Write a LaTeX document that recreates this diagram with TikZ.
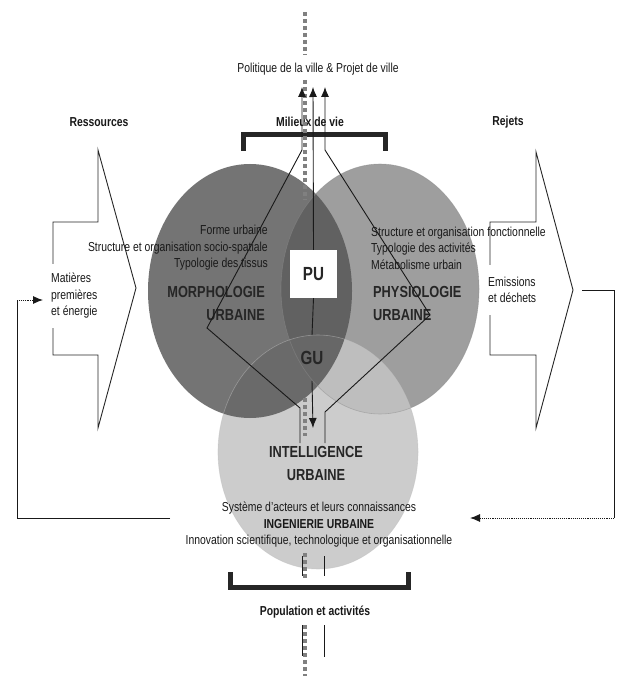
\documentclass[tikz,border=0pt]{standalone}
\usepackage{fontspec}
\setmainfont[FakeStretch=0.8]{Liberation Sans}
\usetikzlibrary{arrows.meta}

\begin{document}
\begin{tikzpicture}[x=1pt,y=-1pt,
  every node/.style={text=black!90},
  plaintxt/.style={font=\fontsize{13}{16.5}\selectfont, inner sep=0pt},
  headtxt/.style={font=\fontsize{13}{15}\selectfont\bfseries, inner sep=0pt},
  fieldlbl/.style={font=\fontsize{16}{23}\selectfont\bfseries, text=black!85, inner sep=0pt},
  corelbl/.style={font=\fontsize{19}{21}\selectfont\bfseries, text=black!85},
  flowline/.style={line width=0.9pt, draw=black!90},
  arrowtip/.style={-{Latex[length=10pt,width=8pt]}},
  axisline/.style={line width=4pt, draw=black!50, dash pattern=on 4pt off 3pt},
  bracketline/.style={line width=5pt, draw=black!85, line join=miter},
  bigarrow/.style={line width=0.9pt, draw=black!85, line join=miter},
]
\useasboundingbox (0,0) rectangle (616,676);
\fill[white] (0,0) rectangle (616,676);

% the three overlapping domains
\fill[black!38] (380,289) ellipse [x radius=99, y radius=125];
\fill[black!23, fill opacity=0.85] (318,452) ellipse [x radius=100, y radius=117];
\fill[black!68, fill opacity=0.8] (250,291) ellipse [x radius=102, y radius=127];
\draw[black!45, line width=0.6pt, opacity=0.5] (380,289) ellipse [x radius=99, y radius=125];
\draw[black!25, line width=0.6pt, opacity=0.5] (318,452) ellipse [x radius=100, y radius=117];

% brackets
\draw[bracketline] (243,151) -- (243,135) -- (385,135) -- (385,151);
\draw[bracketline] (230,572) -- (230,587) -- (408,587) -- (408,572);

% headings
\node[plaintxt] (politique) at (318,69) {Politique de la ville \& Projet de ville};
\node[headtxt] (milieux) at (310,122) {Milieux de vie};
\node[headtxt] (ressources) at (99,122) {Ressources};
\node[headtxt] (rejets) at (508,122) {Rejets};
\node[headtxt] (population) at (315,612) {Population et activités};

% vertical axis
\draw[axisline] (305,12) -- (305,55);
\draw[axisline] (305,80) -- (305,200);
\draw[axisline] (305,398) -- (305,436);
\draw[axisline] (305,553) -- (305,578);
\draw[axisline] (305,625) -- (305,676);

% domain texts
\node[plaintxt, anchor=east, align=right] (morphtxt) at (268,248)
  {Forme urbaine\\Structure et organisation socio-spatiale\\Typologie des tissus};
\node[fieldlbl, anchor=east, align=right] (morph) at (265,303.5) {MORPHOLOGIE\\URBAINE};
\node[plaintxt, anchor=west, align=left] (phystxt) at (371,248)
  {Structure et organisation fonctionnelle\\Typologie des activités\\Métabolisme urbain};
\node[fieldlbl, anchor=west, align=left] (phys) at (373,303.5) {PHYSIOLOGIE\\URBAINE};
\node[fieldlbl, align=center] (intel) at (316,463.5) {INTELLIGENCE\\URBAINE};
\node[plaintxt, align=center] (inge) at (319,525)
  {Système d'acteurs et leurs connaissances\\\textbf{INGENIERIE URBAINE}\\Innovation scientifique, technologique et organisationnelle};

% core nodes
\node[corelbl, fill=white, minimum width=47pt, minimum height=48pt, inner sep=0pt] (pu) at (313.5,274) {PU};
\node[corelbl, inner ysep=16pt, inner xsep=2pt] (gu) at (312,358) {GU};

% flows between the domains
\coordinate (lTop) at (302,87);
\coordinate (cTop) at (313,87);
\coordinate (rTop) at (325,87);
\coordinate (lFoot) at (300,443);
\coordinate (rFoot) at (325,443);
\coordinate (cFoot) at (313,428);
\draw[flowline, arrowtip] (lFoot) -- (300,408) -- (207,328) -- (302,150) -- (lTop);
\draw[flowline, arrowtip] (rFoot) -- (325,412) -- (430,315) -- (325,150) -- (rTop);
\draw[flowline, arrowtip] (pu.north) -- (cTop);
\draw[flowline] (pu.south) -- (gu.north);
\draw[flowline, arrowtip] (gu.south) -- (cFoot);
\draw[flowline] (302,556) -- (302,576);
\draw[flowline] (324,556) -- (324,576);
\draw[flowline] (302,625) -- (302,656);
\draw[flowline] (324,625) -- (324,657);

% resource and waste arrows
\draw[bigarrow] (53,222) -- (98,222) -- (98,150) -- (136,288) -- (98,428) -- (98,355) -- (53,355) -- cycle;
\draw[bigarrow] (490,222) -- (536,222) -- (536,152) -- (573,290) -- (536,428) -- (536,355) -- (490,355) -- cycle;
\node[plaintxt, anchor=west, align=left, fill=white, inner xsep=2pt, inner ysep=9pt] (matieres) at (49,296)
  {Matières\\premières\\et énergie};
\node[plaintxt, anchor=west, align=left, fill=white, inner xsep=2pt, inner ysep=12pt] (emissions) at (486,290)
  {Emissions\\et déchets};

% feedback loops
\coordinate (fbR0) at (582,290);
\coordinate (fbR1) at (614,290);
\coordinate (fbR2) at (614,518);
\coordinate (fbRend) at (470,518);
\draw[flowline] (fbR0) -- (fbR1) -- (fbR2);
\draw[flowline, densely dotted, arrowtip] (fbR2) -- (fbRend);
\coordinate (fbL0) at (170,518);
\coordinate (fbL1) at (17,518);
\coordinate (fbL2) at (17,300);
\coordinate (fbLend) at (43,300);
\draw[flowline] (fbL0) -- (fbL1) -- (fbL2);
\draw[flowline, densely dotted, arrowtip] (fbL2) -- (fbLend);
\end{tikzpicture}
\end{document}
